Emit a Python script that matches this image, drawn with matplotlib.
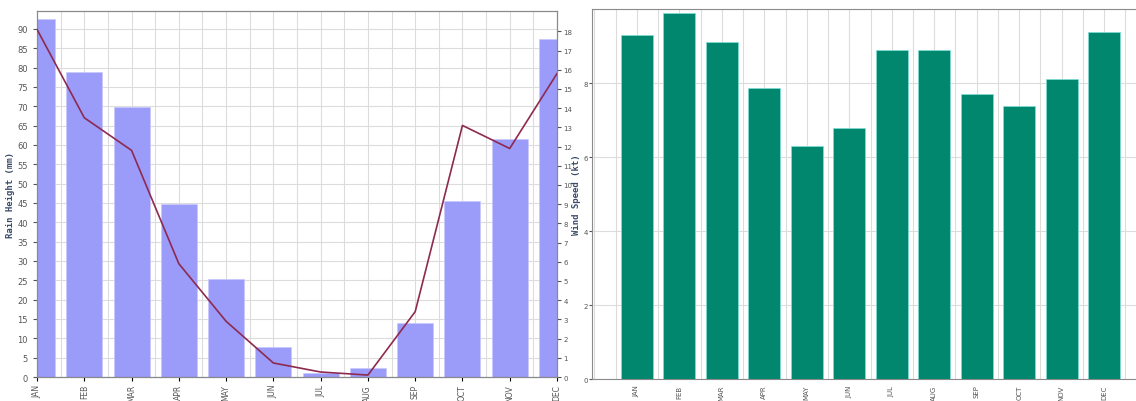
import numpy as np
import matplotlib
matplotlib.use("Agg")
import matplotlib.pyplot as plt
from matplotlib.ticker import MultipleLocator

months = ['JAN', 'FEB', 'MAR', 'APR', 'MAY', 'JUN', 'JUL', 'AUG', 'SEP', 'OCT', 'NOV', 'DEC']
rain_mm = [92.5, 78.8, 69.8, 44.7, 25.3, 7.8, 1.0, 2.3, 14.0, 45.5, 61.5, 87.3]
rain_line = [18.1, 13.5, 11.8, 5.9, 2.9, 0.73, 0.26, 0.1, 3.4, 13.1, 11.9, 15.8]
wind_kt = [9.3, 9.9, 9.1, 7.87, 6.3, 6.8, 8.9, 8.9, 7.7, 7.37, 8.1, 9.38]

bar_blue = '#9b9bfa'
bar_green = '#00876e'
line_col = '#8e2a4f'
grid_col = '#dcdcdc'
spine_col = '#8a8a8a'

plt.rcParams['font.family'] = ['DejaVu Sans']
fig = plt.figure(figsize=(11.36, 4.02), dpi=100)

x = np.arange(len(months))

# left chart : rain height + line on twin axis
ax1 = fig.add_axes([0.0326, 0.0597, 0.4577, 0.910])
ax1.bar(x, rain_mm, width=0.76, color=bar_blue, edgecolor='#c8c8ff', linewidth=0.5, zorder=2)
ax1.set_xlim(0, 11)
ax1.set_ylim(0, 94.6)
ax1.yaxis.set_major_locator(MultipleLocator(5))
ax1.set_xticks(x)
ax1.set_xticklabels(months, rotation=90, fontsize=5.5, color='#555555')
ax1.xaxis.set_minor_locator(MultipleLocator(0.5))
ax1.tick_params(axis='y', labelsize=6, colors='#555555', length=3)
ax1.tick_params(axis='x', length=3, pad=2)
ax1.tick_params(which='minor', length=0)
ax1.grid(True, which='both', axis='x', color=grid_col, linewidth=0.8, zorder=0)
ax1.grid(True, which='major', axis='y', color=grid_col, linewidth=0.8, zorder=0)
ax1.set_axisbelow(True)
ax1.set_ylabel('Rain Height (mm)', family='DejaVu Sans Mono', fontweight='bold',
               fontsize=6.5, color='#3a4a6a', labelpad=2)
for s in ax1.spines.values():
    s.set_color(spine_col)
ax1.spines['bottom'].set_color('#4a5a7a')

ax2 = ax1.twinx()
ax2.plot(x, rain_line, color=line_col, linewidth=1.2, zorder=3)
ax2.set_ylim(0, 19.05)
ax2.set_yticks(range(0, 19))
ax2.tick_params(axis='y', labelsize=5, colors='#555555', length=3, pad=1.5)
ax2.set_ylabel('Wind Speed (kt)', family='DejaVu Sans Mono', fontweight='bold',
               fontsize=6.5, color='#3a4a6a', labelpad=0)
for s in ax2.spines.values():
    s.set_color(spine_col)

# right chart : wind speed
ax3 = fig.add_axes([0.521, 0.0547, 0.479, 0.920])
ax3.bar(x, wind_kt, width=0.75, color=bar_green, edgecolor='#7fe0d8', linewidth=0.5, zorder=2)
ax3.set_xlim(-1.06, 11.75)
ax3.set_ylim(0, 10)
ax3.set_yticks([0, 2, 4, 6, 8])
ax3.set_xticks(x)
ax3.set_xticklabels(months, rotation=90, fontsize=5, color='#555555')
ax3.xaxis.set_minor_locator(MultipleLocator(0.5))
ax3.tick_params(axis='y', labelsize=5, colors='#555555', length=2, pad=1)
ax3.tick_params(axis='x', length=0, pad=4)
ax3.tick_params(which='minor', length=0)
ax3.grid(True, which='both', axis='x', color=grid_col, linewidth=0.8, zorder=0)
ax3.grid(True, which='major', axis='y', color=grid_col, linewidth=0.8, zorder=0)
ax3.set_axisbelow(True)
for s in ax3.spines.values():
    s.set_color(spine_col)
ax3.spines['right'].set_visible(False)

fig.savefig('out.png', dpi=100)
